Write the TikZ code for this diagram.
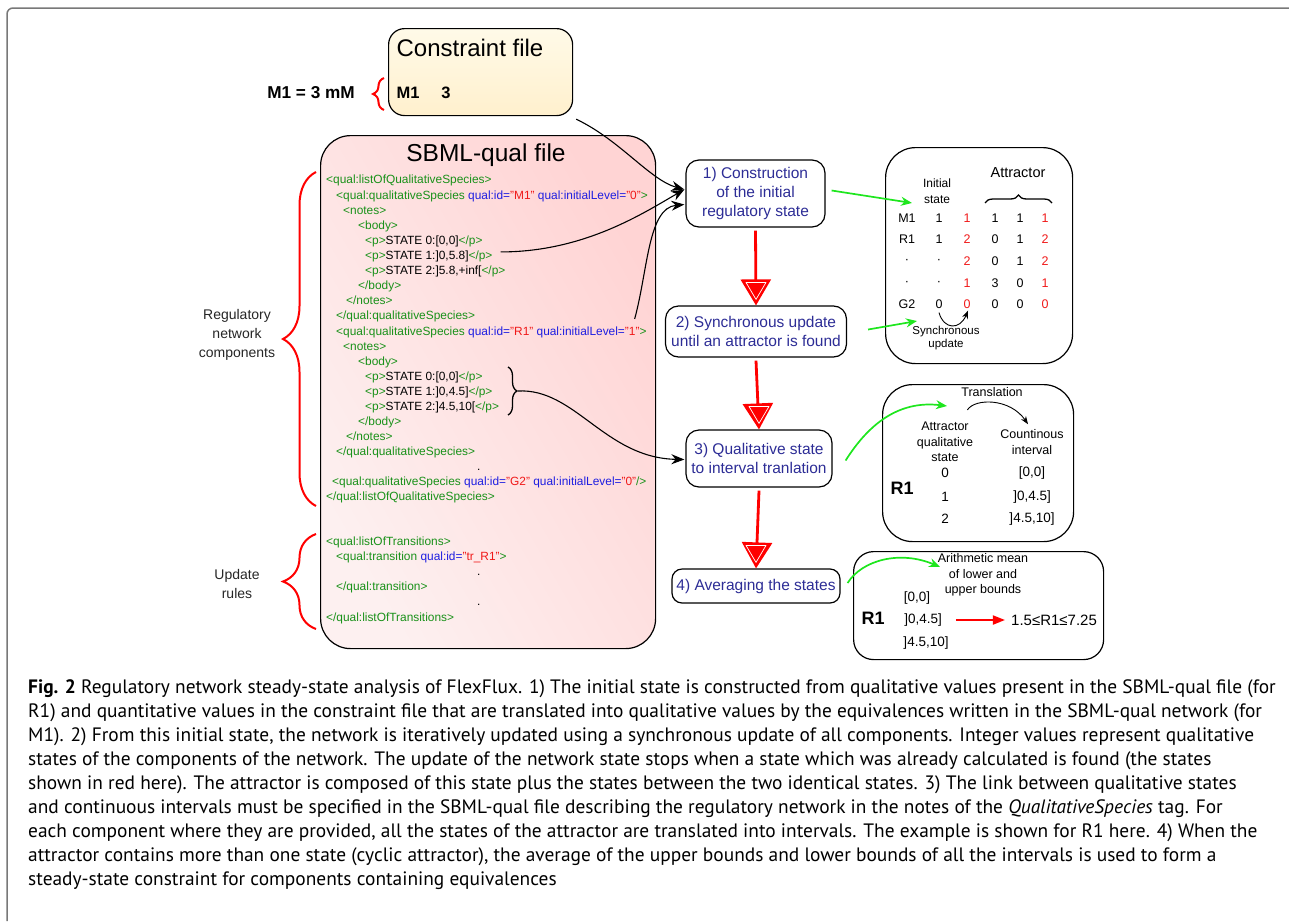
\documentclass[tikz,border=0pt]{standalone}
\usepackage{fontspec}
\setmainfont{Liberation Sans}
\newfontfamily\capfont{PT Sans}
\usetikzlibrary{arrows.meta,decorations.pathreplacing,calc}
\definecolor{tagG}{RGB}{25,145,25}
\definecolor{attB}{RGB}{30,30,225}
\definecolor{valR}{RGB}{240,25,25}
\definecolor{stepB}{RGB}{45,45,150}
\definecolor{gline}{RGB}{30,230,30}
\definecolor{frameG}{RGB}{120,120,120}
\definecolor{pinkA}{RGB}{253,240,240}
\definecolor{pinkB}{RGB}{255,212,212}
\definecolor{yelA}{RGB}{255,250,232}
\definecolor{yelB}{RGB}{255,240,205}
\newcommand{\xtg}[1]{\textcolor{tagG}{#1}}
\newcommand{\xab}[1]{\textcolor{attB}{#1}}
\newcommand{\xvr}[1]{\textcolor{valR}{#1}}
\newcommand{\capsize}{\capfont\fontsize{19.4pt}{22pt}\selectfont}
\tikzset{
  code/.style={anchor=base west, inner sep=0pt, font=\fontsize{11.9}{13}\selectfont},
  stepbox/.style={draw, line width=1.2pt, fill=white, align=center, text=stepB, inner sep=0pt,
     font=\fontsize{15.5}{19}\selectfont},
  panel/.style={draw, line width=1.2pt, anchor=north west, inner sep=0pt},
  lbl/.style={align=center, inner sep=0pt},
  tab/.style={inner sep=0pt, font=\fontsize{12.5}{14}\selectfont},
  redarr/.style={draw=red, line width=2.8pt, -{Triangle[width=30pt,length=26pt]}},
  garr/.style={draw=gline, line width=1.7pt, -{Stealth[length=11pt,width=9pt]}},
  barr/.style={draw=black, line width=1.1pt, -{Stealth[length=13pt,width=10pt]}},
  thinarr/.style={draw=black, line width=0.9pt, -{Stealth[length=8pt,width=6pt]}},
  rbrace/.style={draw=red, line width=2pt, decorate},
  capl/.style={anchor=base west, inner sep=0pt, font=\capsize}
}
\begin{document}
\begin{tikzpicture}[x=1pt,y=-1pt]
\useasboundingbox (0,0) rectangle (1289,921);
% outer frame
\draw[frameG, line width=1.5pt, rounded corners=6pt] (7,921) -- (7,8) -- (1289,8);

% constraint file
\node[panel, rounded corners=16pt, minimum width=184pt, minimum height=87pt, top color=yelA, bottom color=yelB] (cf) at (388,28) {};
\node[lbl, font=\fontsize{24}{26}\selectfont] (cft) at (470,48) {Constraint file};
\node[lbl, font=\bfseries\fontsize{16.5}{18}\selectfont] (cfm) at (408,93) {M1};
\node[lbl, font=\bfseries\fontsize{16.5}{18}\selectfont] (cfv) at (446,93) {3};
\node[lbl, font=\bfseries\fontsize{17.2}{18}\selectfont] (mm) at (311,93) {M1 = 3 mM};
\draw[rbrace, line width=2pt, decoration={brace, amplitude=11pt}] (384,110) -- (384,78);

% SBML-qual file
\node[panel, rounded corners=30pt, minimum width=335pt, minimum height=513pt, shading=axis, left color=pinkA, right color=pinkB, shading angle=120] (sb) at (320,135) {};
\node[lbl, font=\fontsize{24.5}{28}\selectfont] (sbt) at (486,155) {SBML-qual file};

\node[code] (c1) at (326,183) {\xtg{<qual:listOfQualitativeSpecies>}};
\node[code] (c2) at (336,199) {\xtg{<qual:qualitativeSpecies} \xab{qual:id=}\xvr{"M1"} \xab{qual:initialLevel=}\xvr{"0"}\xtg{>}};
\node[code] (c3) at (343,214) {\xtg{<notes>}};
\node[code] (c4) at (358,229) {\xtg{<body>}};
\node[code] (c5) at (365,244) {\xtg{<p>}STATE 0:[0,0]\xtg{</p>}};
\node[code] (c6) at (365,259) {\xtg{<p>}STATE 1:]0,5.8]\xtg{</p>}};
\node[code] (c7) at (365,274) {\xtg{<p>}STATE 2:]5.8,+inf[\xtg{</p>}};
\node[code] (c8) at (358,289) {\xtg{</body>}};
\node[code] (c9) at (346,304) {\xtg{</notes>}};
\node[code] (c10) at (336,319) {\xtg{</qual:qualitativeSpecies>}};
\node[code] (c11) at (336,335) {\xtg{<qual:qualitativeSpecies} \xab{qual:id=}\xvr{"R1"} \xab{qual:initialLevel=}\xvr{"1"}\xtg{>}};
\node[code] (c12) at (343,350) {\xtg{<notes>}};
\node[code] (c13) at (358,365) {\xtg{<body>}};
\node[code] (c14) at (365,380) {\xtg{<p>}STATE 0:[0,0]\xtg{</p>}};
\node[code] (c15) at (365,395) {\xtg{<p>}STATE 1:]0,4.5]\xtg{</p>}};
\node[code] (c16) at (365,410) {\xtg{<p>}STATE 2:]4.5,10[\xtg{</p>}};
\node[code] (c17) at (358,425) {\xtg{</body>}};
\node[code] (c18) at (346,440) {\xtg{</notes>}};
\node[code] (c19) at (336,455) {\xtg{</qual:qualitativeSpecies>}};
\node[code] (c20) at (477,470) {.};
\node[code] (c21) at (332,485) {\xtg{<qual:qualitativeSpecies} \xab{qual:id=}\xvr{"G2"} \xab{qual:initialLevel=}\xvr{"0"}\xtg{/>}};
\node[code] (c22) at (326,500) {\xtg{</qual:listOfQualitativeSpecies>}};
\node[code] (c23) at (326,545) {\xtg{<qual:listOfTransitions>}};
\node[code] (c24) at (336,560) {\xtg{<qual:transition} \xab{qual:id=}\xvr{"tr\_R1"}\xtg{>}};
\node[code] (c25) at (477,575) {.};
\node[code] (c26) at (336,590) {\xtg{</qual:transition>}};
\node[code] (c27) at (477,605) {.};
\node[code] (c28) at (326,621) {\xtg{</qual:listOfTransitions>}};

% left labels and braces
\node[lbl, font=\fontsize{14}{19}\selectfont, text=black!85] (rnc) at (237,335) {Regulatory\\network\\components};
\node[lbl, font=\fontsize{14}{19}\selectfont, text=black!85] (upr) at (237,584) {Update\\rules};
\draw[rbrace, decoration={brace, amplitude=33pt}] (316,506) -- (316,172);
\draw[rbrace, decoration={brace, amplitude=33pt}] (316,629) -- (316,534);
\draw[decorate, line width=1.3pt, decoration={brace, amplitude=9pt}] (508,367) -- (508,415);
\coordinate (bt) at (518,391);

% step boxes
\node[stepbox, rounded corners=13pt, minimum width=139pt, minimum height=67pt] (s1) at (755.5,193.5) {1) Construction\\of the initial\\regulatory state};
\node[stepbox, rounded corners=13pt, minimum width=181pt, minimum height=51pt] (s2) at (756,331.5) {2) Synchronous update\\until an attractor is found};
\node[stepbox, rounded corners=13pt, minimum width=146pt, minimum height=57pt] (s3) at (759,458.5) {3) Qualitative state\\to interval tranlation};
\node[stepbox, rounded corners=10pt, minimum width=168pt, minimum height=34pt] (s4) at (756,586) {4) Averaging the states};

% red arrows
\foreach \a/\b in {s1/s2, s2/s3, s3/s4} {
  \draw[redarr] ($(\a.south)+(0,3)$) -- (\b.north);
  \draw[white, line width=0.7pt, line join=round] ($(\b.north)+(-10,-23)$) -- ($(\b.north)+(10,-23)$) -- ($(\b.north)+(0,-6)$) -- cycle;
}

% black connectors
\draw[barr] ($(cf.south east)+(3,3)$) .. controls (620,140) and (650,180) .. ($(s1.west)+(-1,-4)$);
\draw[barr] ($(c6.east)+(8,-4)$) .. controls (585,252) and (645,212) .. ($(s1.west)+(-1,-4)$);
\draw[barr] ($(c11.east)+(-12,-13)$) .. controls (648,270) and (648,208) .. ($(s1.west)+(-1,11)$);
\draw[barr] (bt) .. controls (575,388) and (605,458) .. ($(s3.west)+(-1,1)$);

% panel 1: attractor
\node[panel, rounded corners=30pt, minimum width=187pt, minimum height=216pt] (p1) at (885,147) {};
\node[lbl, font=\fontsize{12}{16}\selectfont] (ini) at (937,191) {Initial\\state};
\node[lbl, font=\fontsize{14.5}{16}\selectfont] (att) at (1018,173) {Attractor};
\draw[decorate, line width=1.3pt, decoration={brace, amplitude=8pt}] (985,203) -- (1052,203);
\foreach \r/\yy/\a/\b/\c/\d/\e/\f in {1/218/M1/1/1/1/1/1, 2/239/R1/1/2/0/1/2, 3/261/\textperiodcentered/\textperiodcentered/2/0/1/2, 4/283/\textperiodcentered/\textperiodcentered/1/3/0/1, 5/304/G2/0/0/0/0/0} {
  \node[tab] (t\r-a) at (907,\yy) {\a};
  \node[tab] (t\r-b) at (939,\yy) {\b};
  \node[tab, text=valR] (t\r-c) at (967,\yy) {\c};
  \node[tab] (t\r-d) at (995,\yy) {\d};
  \node[tab] (t\r-e) at (1020,\yy) {\e};
  \node[tab, text=valR] (t\r-f) at (1045,\yy) {\f};
}
\draw[thinarr] ($(t5-b.south)+(0,4)$) .. controls (944,330) and (960,330) .. ($(t5-c.south)+(1,2)$);
\node[lbl, font=\fontsize{11.5}{12.5}\selectfont] (syn) at (946,338) {Synchronous\\update};
\coordinate (g1) at (912,203);
\coordinate (g2) at (917,321);
\draw[garr] ($(s1.east)+(6,-3)$) -- (g1);
\draw[garr] ($(s2.east)+(21,-2)$) -- (g2);

% panel 2: translation
\node[panel, rounded corners=30pt, minimum width=191pt, minimum height=157pt] (p2) at (882,384) {};
\node[lbl, font=\fontsize{12.5}{14}\selectfont, fill=white, inner sep=1pt] (trl) at (992,392) {Translation};
\node[lbl, font=\fontsize{12.5}{15.5}\selectfont] (aqs) at (945,442) {Attractor\\qualitative\\state};
\node[lbl, font=\fontsize{12.5}{16}\selectfont] (cin) at (1032,442) {Countinous\\interval};
\draw[thinarr] ($(aqs.north east)+(-6,-12)$) .. controls (975,398) and (1010,398) .. ($(cin.north)+(-4,-5)$);
\node[lbl, font=\bfseries\fontsize{18}{20}\selectfont] (r1a) at (902,488) {R1};
\node[tab, font=\fontsize{13.5}{15}\selectfont] (q0) at (945,473) {0};
\node[tab, font=\fontsize{13.5}{15}\selectfont] (q1) at (945,497) {1};
\node[tab, font=\fontsize{13.5}{15}\selectfont] (q2) at (945,519) {2};
\node[tab, font=\fontsize{13.5}{15}\selectfont] (i0) at (1032,473) {[0,0]};
\node[tab, font=\fontsize{13.5}{15}\selectfont] (i1) at (1032,497) {]0,4.5]};
\node[tab, font=\fontsize{13.5}{15}\selectfont] (i2) at (1032,519) {]4.5,10]};
\coordinate (g3) at (947,406);
\draw[garr] ($(s3.east)+(13,2)$) .. controls (868,425) and (898,400) .. (g3);

% panel 3: mean
\node[panel, rounded corners=20pt, minimum width=250pt, minimum height=108pt] (p3) at (853,551) {};
\node[lbl, font=\fontsize{12.5}{15.5}\selectfont, fill=white, inner sep=1pt] (amn) at (983,575) {Arithmetic mean\\of lower and\\upper bounds};
\node[lbl, font=\bfseries\fontsize{18}{20}\selectfont] (r1b) at (873,618) {R1};
\node[tab, font=\fontsize{13.5}{15}\selectfont] (m0) at (917,598) {[0,0]};
\node[tab, font=\fontsize{13.5}{15}\selectfont] (m1) at (923,620) {]0,4.5]};
\node[tab, font=\fontsize{13.5}{15}\selectfont] (m2) at (926,643) {]4.5,10]};
\node[tab, font=\fontsize{15}{17}\selectfont] (res) at (1054,620) {1.5≤R1≤7.25};
\draw[draw=red, line width=1.8pt, -{Triangle[length=12pt,width=9pt]}] ($(m1.east)+(14,0)$) -- ($(res.west)+(-6,0)$);
\coordinate (g4) at (940,567);
\draw[garr] ($(s4.east)+(7,-3)$) .. controls (862,560) and (900,550) .. (g4);

% caption
\node[capl] (l1) at (28,693) {\textbf{Fig. 2} Regulatory network steady-state analysis of FlexFlux. 1) The initial state is constructed from qualitative values present in the SBML-qual file (for};
\node[capl] (l2) at (28,717) {R1) and quantitative values in the constraint file that are translated into qualitative values by the equivalences written in the SBML-qual network (for};
\node[capl] (l3) at (28,741) {M1). 2) From this initial state, the network is iteratively updated using a synchronous update of all components. Integer values represent qualitative};
\node[capl] (l4) at (28,765) {states of the components of the network. The update of the network state stops when a state which was already calculated is found (the states};
\node[capl] (l5) at (28,789) {shown in red here). The attractor is composed of this state plus the states between the two identical states. 3) The link between qualitative states};
\node[capl] (l6) at (28,813) {and continuous intervals must be specified in the SBML-qual file describing the regulatory network in the notes of the \textit{QualitativeSpecies} tag. For};
\node[capl] (l7) at (28,837) {each component where they are provided, all the states of the attractor are translated into intervals. The example is shown for R1 here. 4) When the};
\node[capl] (l8) at (28,861) {attractor contains more than one state (cyclic attractor), the average of the upper bounds and lower bounds of all the intervals is used to form a};
\node[capl] (l9) at (28,885) {steady-state constraint for components containing equivalences};
\end{tikzpicture}
\end{document}
